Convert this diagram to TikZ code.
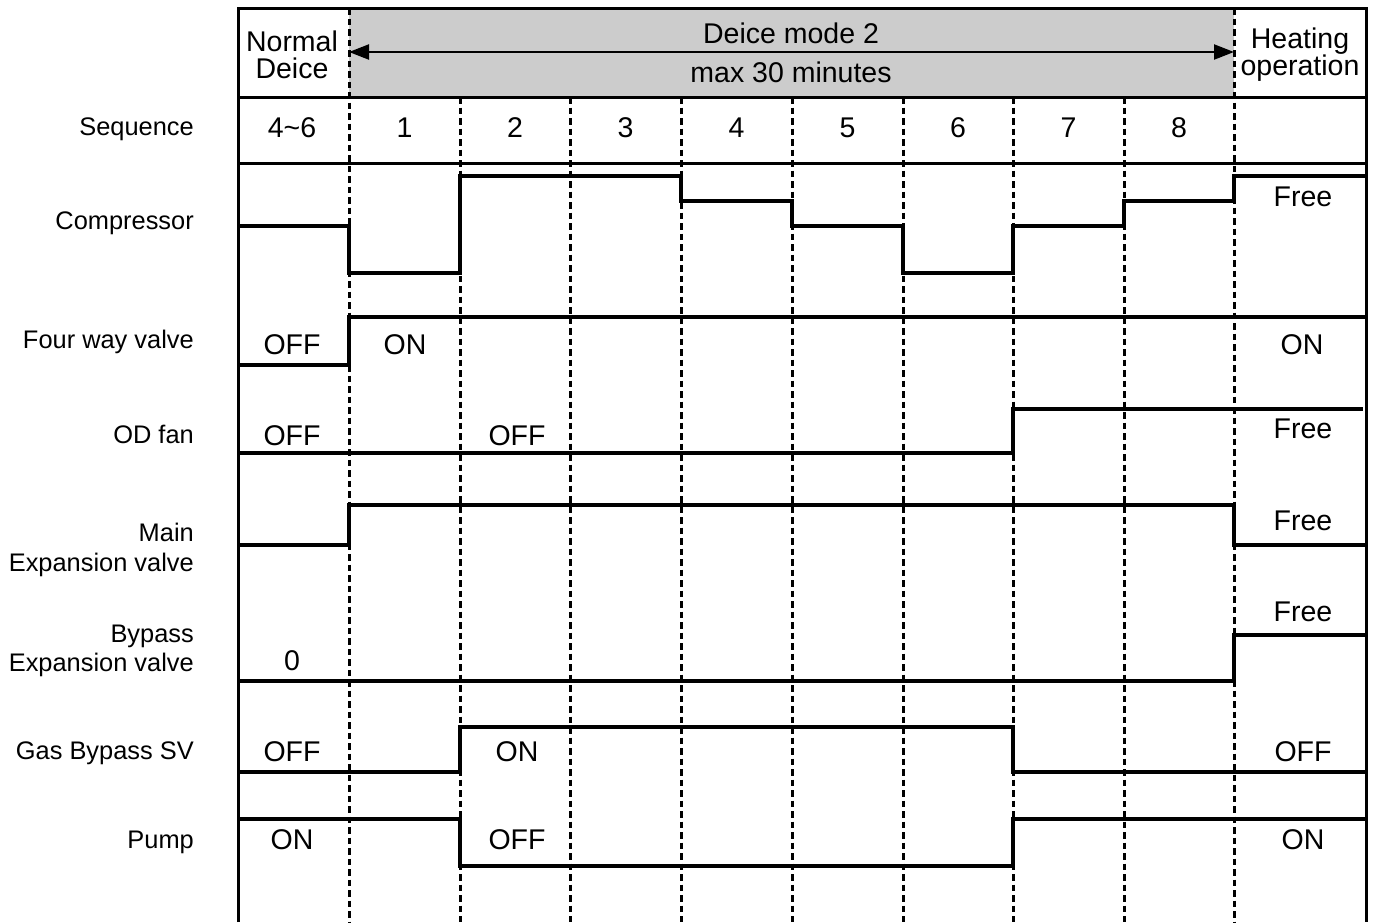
\documentclass[tikz,border=0pt]{standalone}
\usepackage{fontspec}
\setmainfont{Liberation Sans}
\usetikzlibrary{arrows.meta}
\begin{document}
\begin{tikzpicture}[x=1pt,y=-1pt,
  txt/.style={font=\fontsize{28.5}{30}\selectfont, inner sep=0pt},
  lab/.style={font=\fontsize{25.4}{29.5}\selectfont, inner sep=0pt, anchor=east, align=right},
  frame/.style={line width=3pt},
  sig/.style={line width=4.5pt, line join=miter, line cap=butt},
  grid/.style={line width=3pt, dash pattern=on 6.5pt off 4pt},
  arr/.style={line width=2.2pt, {Triangle[length=20pt,width=15pt]}-{Triangle[length=20pt,width=15pt]}}]
\useasboundingbox (0,0) rectangle (1378,922);
% gray header
\fill[black!20] (349,8) rectangle (1234,97);
% frame
\draw[frame] (238,922) -- (238,8) -- (1366,8) -- (1366,922);
\draw[frame] (238,97) -- (1366,97);
\draw[frame] (238,163) -- (1366,163);
% dashed columns
\foreach \x in {349,1234}
  \draw[grid] (\x,8) -- (\x,922);
\foreach \x in {460,570,681,792,903,1013,1124}
  \draw[grid] (\x,97) -- (\x,922);
% arrow
\coordinate (al) at (349,52);
\coordinate (ar) at (1234,52);
\draw[arr] (al) -- (ar);
% header text
\node[txt] (hn) at (292,41) {Normal};
\node[txt] (hd) at (292,68) {Deice};
\node[txt] (dm) at (791,33) {Deice mode 2};
\node[txt] (mx) at (791,72) {max 30 minutes};
\node[txt] (ho) at (1300,41) {Heating};
\node[txt] (hp) at (1300,68) {operation};
% sequence
\node[txt] (s0) at (292,128) {4\char`\~6};
\foreach \i/\x in {1/404.5,2/515,3/625.5,4/736.5,5/847.5,6/958,7/1068.5,8/1179}
  \node[txt] (s\i) at (\x,128) {\i};
% left labels
\node[lab] (lseq) at (194,129) {Sequence};
\node[lab] (lcomp) at (194,223.5) {Compressor};
\node[lab] (lfwv) at (194,342) {Four way valve};
\node[lab] (lod) at (194,434) {OD fan};
\node[lab] (lmain) at (194,550) {Main\\Expansion valve};
\node[lab] (lbyp) at (194,651) {Bypass\\Expansion valve};
\node[lab] (lgas) at (194,753) {Gas Bypass SV};
\node[lab] (lpump) at (194,842) {Pump};
% compressor
\draw[sig] (238,226) -- (349,226) -- (349,273) -- (460,273) -- (460,176) -- (681,176) -- (681,201) -- (792,201) -- (792,226) -- (903,226) -- (903,273) -- (1013,273) -- (1013,226) -- (1124,226) -- (1124,201) -- (1234,201) -- (1234,176) -- (1366,176);
\node[txt] (cfree) at (1303,197) {Free};
% four way valve
\draw[sig] (238,365) -- (349,365) -- (349,317) -- (1366,317);
\node[txt] (f1) at (292,345) {OFF};
\node[txt] (f2) at (405,345) {ON};
\node[txt] (f3) at (1302,345) {ON};
% OD fan
\draw[sig] (238,453) -- (1013,453) -- (1013,409) -- (1363,409);
\node[txt] (o1) at (292,436) {OFF};
\node[txt] (o2) at (517,436) {OFF};
\node[txt] (o3) at (1303,429) {Free};
% main expansion valve
\draw[sig] (238,545) -- (349,545) -- (349,505) -- (1234,505) -- (1234,545) -- (1366,545);
\node[txt] (m1) at (1303,521) {Free};
% bypass expansion valve
\draw[sig] (238,681) -- (1234,681) -- (1234,635) -- (1366,635);
\node[txt] (b1) at (292,661) {0};
\node[txt] (b2) at (1303,612) {Free};
% gas bypass SV
\draw[sig] (238,772) -- (460,772) -- (460,727) -- (1013,727) -- (1013,772) -- (1366,772);
\node[txt] (g1) at (292,752) {OFF};
\node[txt] (g2) at (517,752) {ON};
\node[txt] (g3) at (1303,752) {OFF};
% pump
\draw[sig] (238,819) -- (460,819) -- (460,866) -- (1013,866) -- (1013,819) -- (1366,819);
\node[txt] (p1) at (292,840) {ON};
\node[txt] (p2) at (517,840) {OFF};
\node[txt] (p3) at (1303,840) {ON};
\end{tikzpicture}
\end{document}
